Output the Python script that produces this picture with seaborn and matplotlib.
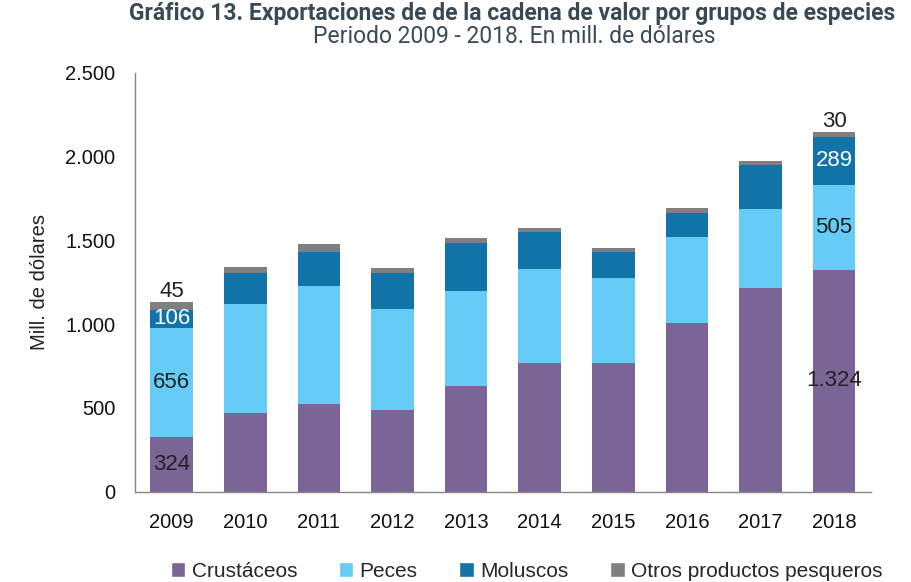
import numpy as np
import pandas as pd
import seaborn as sns
import matplotlib.pyplot as plt
from matplotlib.patches import Patch
from matplotlib.ticker import FuncFormatter

years = ["2009", "2010", "2011", "2012", "2013", "2014", "2015", "2016", "2017", "2018"]
crustaceos = [324, 472, 525, 490, 633, 770, 770, 1009, 1218, 1324]
peces = [656, 650, 705, 603, 567, 561, 508, 513, 472, 505]
moluscos = [106, 185, 203, 214, 287, 221, 155, 144, 262, 289]
otros = [45, 32, 48, 30, 25, 24, 24, 29, 22, 30]

series = ["Crustáceos", "Peces", "Moluscos", "Otros productos pesqueros"]
colors = ["#7b6597", "#66ccf5", "#1173a8", "#7f7f7f"]

df = pd.DataFrame({"year": years, "Crustáceos": crustaceos, "Peces": peces,
                   "Moluscos": moluscos, "Otros productos pesqueros": otros})
cum = df[series].cumsum(axis=1)

sns.set_style("white")
plt.rcParams['font.family'] = ['Liberation Sans', 'DejaVu Sans']

fig = plt.figure(figsize=(9.11, 5.82), dpi=100)
ax = fig.add_axes([0.148, 0.155, 0.808, 0.72])

# stacked bars: draw cumulative totals from top layer down
for s, c in reversed(list(zip(series, colors))):
    sns.barplot(x=df["year"], y=cum[s], color=c, width=0.58, saturation=1,
                linewidth=0, ax=ax)

ax.set_ylim(0, 2500)
ax.set_xlim(-0.5, 9.5)
ax.set_yticks(np.arange(0, 2501, 500))
ax.yaxis.set_major_formatter(FuncFormatter(lambda v, p: f"{v:,.0f}".replace(",", ".")))
ax.set_xlabel("")
ax.set_ylabel("Mill. de dólares", fontsize=14.5, color="#222222", labelpad=12)

sns.despine(ax=ax)
for sp in ["left", "bottom"]:
    ax.spines[sp].set_color("#888888")
    ax.spines[sp].set_linewidth(1)
ax.tick_params(axis="y", length=5, color="#888888", labelsize=14.5, labelcolor="#111111", pad=9)
ax.tick_params(axis="x", which="major", length=0, labelsize=14.5, labelcolor="#111111", pad=15)
ax.set_xticks(np.arange(-0.5, 10, 1), minor=True)
ax.tick_params(axis="x", which="minor", length=5, color="#888888")

def fmt(v):
    return f"{v:,.0f}".replace(",", ".")

# data labels for first and last year
for i in [0, 9]:
    base = 0
    vals = [crustaceos[i], peces[i], moluscos[i]]
    tcols = ["#222222", "#222222", "white"]
    for v, tc in zip(vals, tcols):
        ax.text(i, base + v / 2, fmt(v), ha="center", va="center",
                fontsize=16, color=tc)
        base += v
    ax.text(i, base + otros[i], fmt(otros[i]), ha="center", va="bottom",
            fontsize=16, color="#222222")

handles = [Patch(facecolor=c, label=s) for s, c in zip(series, colors)]
fig.legend(handles=handles, loc="lower center", bbox_to_anchor=(0.578, -0.03), ncol=4,
           frameon=False, fontsize=15, handlelength=0.7, handleheight=0.7,
           handletextpad=0.3, columnspacing=2.0)

fig.text(0.562, 0.976, "Gráfico 13. Exportaciones de de la cadena de valor por grupos de especies",
         ha="center", va="center", fontsize=16.5, fontweight="bold", color="#3a4a55",
         family="Roboto")
fig.text(0.565, 0.938, "Periodo 2009 - 2018. En mill. de dólares",
         ha="center", va="center", fontsize=16.5, color="#3a4a55", family="Roboto")

fig.savefig("out.png", dpi=100)
